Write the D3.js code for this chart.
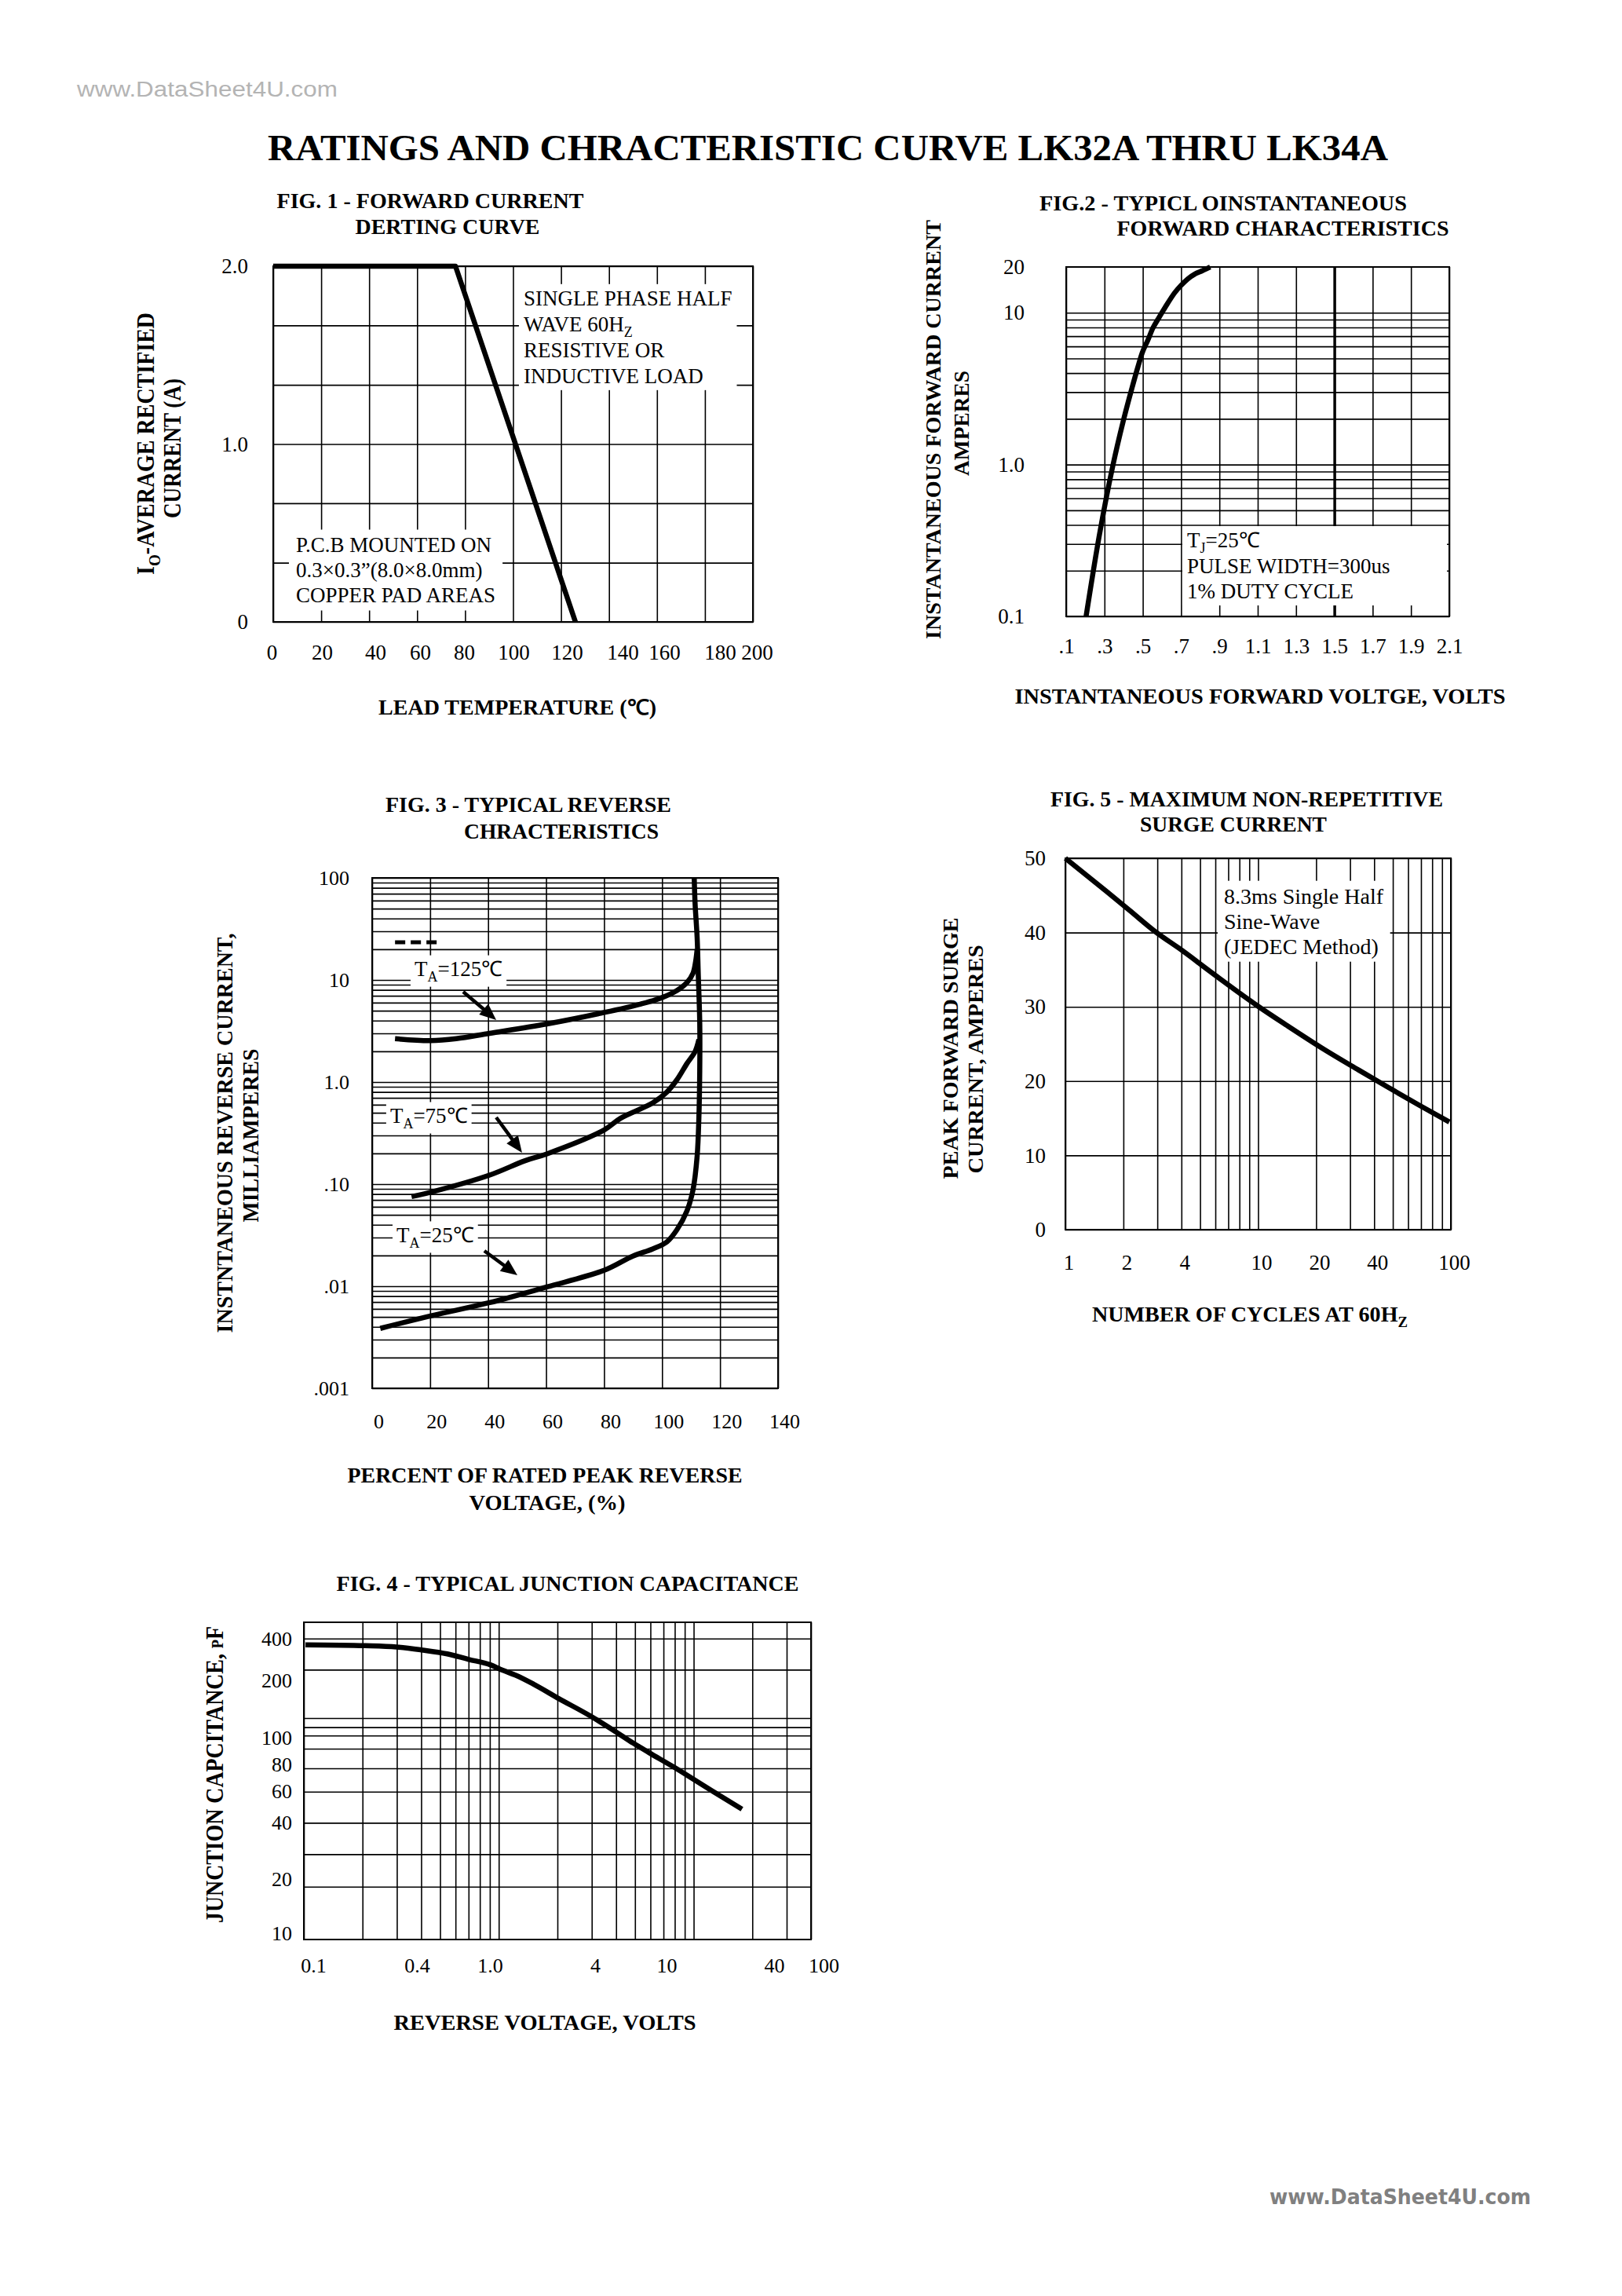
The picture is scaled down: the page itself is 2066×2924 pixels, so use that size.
<!DOCTYPE html>
<meta charset="utf-8">
<title>LK32A thru LK34A curves</title>
<style>
html, body {
  margin: 0;
  padding: 0;
  background: #fff;
}
svg { display: block; }
text {
  font-family: "Liberation Serif", "Times New Roman", serif;
  fill: #000;
}
.grid line {
  stroke: #000;
  stroke-width: 1.6;
}
.frame {
  fill: none;
  stroke: #000;
  stroke-width: 2;
}
.curve {
  fill: none;
  stroke: #000;
  stroke-width: 6.5;
  stroke-linejoin: round;
  stroke-linecap: butt;
}
</style>
<body>
<script src="https://d3js.org/d3.v7.min.js"></script>
<script>

// ---- fig. 1 forward current derating
var derateTemp = [0, 76, 126];
var derateAmps = [2.0, 2.0, 0];
var derateXTicks = [0, 20, 40, 60, 80, 100, 120, 140, 160, 180, 200];
var derateYGrid = [0, 0.333, 0.667, 1.0, 1.333, 1.667, 2.0];
var derateYTicks = [0, 1.0, 2.0];

// ---- fig. 2 forward characteristics
var fwdVolts = [0.204, 0.271, 0.345, 0.397, 0.445, 0.474, 0.497, 0.526, 0.553, 0.581, 0.616, 0.668, 0.699, 0.735, 0.773, 0.811, 0.852];
var fwdAmps  = [0.1, 0.33, 1.0, 1.91, 3.24, 4.37, 5.44, 6.57, 7.93, 9.13, 10.8, 13.6, 15.1, 16.7, 18.0, 18.9, 20];
var fwdXTicks = [0.1, 0.3, 0.5, 0.7, 0.9, 1.1, 1.3, 1.5, 1.7, 1.9, 2.1];
var fwdXLabels = [".1", ".3", ".5", ".7", ".9", "1.1", "1.3", "1.5", "1.7", "1.9", "2.1"];
var fwdYTicks = [0.1, 1, 10, 20];
var fwdYLabels = ["0.1", "1.0", "10", "20"];

// ---- fig. 3 reverse characteristics
var rev125Pct = [7.9, 20.1, 29, 40.5, 60.3, 80, 92.7, 99.9, 105.1, 108.6, 110.7, 111.6, 112.1];
var rev125mA  = [2.66, 2.55, 2.66, 3.0, 3.71, 4.8, 5.82, 6.7, 7.87, 9.44, 11.7, 15.3, 20];
var rev75Pct  = [13.6, 20.7, 40.5, 52.6, 60.3, 80, 85.8, 96.8, 101.7, 105.1, 108.6, 111.4, 112.7];
var rev75mA   = [0.0755, 0.084, 0.1225, 0.169, 0.198, 0.339, 0.444, 0.625, 0.80, 1.05, 1.52, 1.99, 2.61];
var rev25Pct  = [2.8, 20.7, 40.5, 60.3, 80, 89.9, 96.8, 101.7, 105.1, 108.6, 110.7, 112.1, 112.7, 113, 113, 112.5, 112.1, 111.4, 111.1];
var rev25mA   = [0.00386, 0.00516, 0.0069, 0.00985, 0.0143, 0.0197, 0.0232, 0.0272, 0.0356, 0.0547, 0.0887, 0.188, 0.444, 1.3, 3.79, 11.1, 26.1, 55.5, 100];
var revXTicks = [0, 20, 40, 60, 80, 100, 120, 140];
var revYTicks = [0.001, 0.01, 0.1, 1, 10, 100];
var revYLabels = [".001", ".01", ".10", "1.0", "10", "100"];
var revNames = ["T_A=125\u2103", "T_A=75\u2103", "T_A=25\u2103"];

// ---- fig. 5 surge current
var surgeCycles = [1, 1.64, 2.15, 2.97, 3.88, 5.96, 10.1, 14.1, 21.6, 33.2, 47.7, 69.1, 98.2];
var surgeAmps   = [50.0, 45.5, 43.0, 40.0, 37.9, 34.3, 30.0, 27.5, 24.4, 21.5, 19.1, 16.7, 14.5];
var surgeXTicks = [1, 2, 4, 10, 20, 40, 100];
var surgeYTicks = [0, 10, 20, 30, 40, 50];

// ---- fig. 4 junction capacitance
var capVolts = [0.102, 0.206, 0.299, 0.4, 0.544, 0.702, 0.905, 1.04, 1.23, 1.51, 2.03, 2.95, 3.97, 4.91, 5.91, 7.87, 9.85, 12.3, 17.7];
var capPf    = [370, 366, 360, 347, 330, 308, 288, 270, 252, 226, 189, 152, 125, 108, 96, 80.5, 69.5, 60, 47.4];
var capYGrid = [18, 27, 40, 59, 79, 101, 119, 132, 148, 271, 400];
var capYTicks = [10, 20, 40, 60, 80, 100, 200, 400];
var capXTicks = [0.1, 0.4, 1, 4, 10, 40, 100];
var capXLabels = ["0.1", "0.4", "1.0", "4", "10", "40", "100"];


var svg = d3.select("body").append("svg")
    .attr("width", 2066)
    .attr("height", 2924);

svg.append("rect")
    .attr("width", 2066)
    .attr("height", 2924)
    .attr("fill", "#fff");

// text with "_X" meaning a one letter subscript
function rich(t, str, size) {
  var parts = str.split("_"), sh = Math.round(size * 0.25);
  t.append("tspan").text(parts[0]);
  for (var i = 1; i < parts.length; i++) {
    t.append("tspan").attr("font-size", Math.round(size * 0.68)).attr("dy", sh).text(parts[i].charAt(0));
    t.append("tspan").attr("dy", -sh).text(parts[i].slice(1));
  }
  return t;
}

function label(g, x, y, str, o) {
  o = o || {};
  var size = o.size || 27;
  var t = g.append("text")
      .attr("x", x)
      .attr("y", y)
      .attr("font-size", size)
      .attr("font-weight", o.bold ? "bold" : null)
      .attr("text-anchor", o.anchor || "start");
  if (o.len) t.attr("textLength", o.len).attr("lengthAdjust", "spacingAndGlyphs");
  return rich(t, str, size);
}

function title(g, x, y, str, len, size) {
  return label(g, x, y, str, {bold: true, anchor: "middle", len: len, size: size || 27});
}

function vtitle(g, bx, cy, str, len, size) {
  var t = g.append("text")
      .attr("transform", "translate(" + bx + "," + cy + ") rotate(-90)")
      .attr("text-anchor", "middle")
      .attr("font-size", size)
      .attr("font-weight", "bold")
      .attr("textLength", len)
      .attr("lengthAdjust", "spacingAndGlyphs");
  return rich(t, str, size);
}

// white boxed note, lines stacked downward from the first baseline
function note(g, x, y, lines, size, step, pad, right) {
  var n = g.append("g");
  lines.forEach(function(s, i) {
    label(n, x, y + i * step, s, {size: size});
  });
  var bb = n.node().getBBox();
  var w = right ? right - (bb.x - pad) : bb.width + pad * 2;
  n.insert("rect", ":first-child")
      .attr("x", bb.x - pad)
      .attr("y", bb.y - pad / 2)
      .attr("width", w)
      .attr("height", bb.height + pad)
      .attr("fill", "#fff");
  return n;
}

function gridX(g, x, vals, f) {
  return g.append("g")
      .attr("class", "grid")
      .attr("transform", "translate(0," + f.b + ")")
      .call(d3.axisBottom(x).tickValues(vals).tickSize(-(f.b - f.t)).tickFormat(""))
      .call(function(a) { a.select(".domain").remove(); });
}

function gridY(g, y, vals, f) {
  return g.append("g")
      .attr("class", "grid")
      .attr("transform", "translate(" + f.l + ",0)")
      .call(d3.axisLeft(y).tickValues(vals).tickSize(-(f.r - f.l)).tickFormat(""))
      .call(function(a) { a.select(".domain").remove(); });
}

function frame(g, f) {
  g.append("rect")
      .attr("class", "frame")
      .attr("x", f.l)
      .attr("y", f.t)
      .attr("width", f.r - f.l)
      .attr("height", f.b - f.t);
}

function numsLeft(g, y, vals, fmt, xpos, size) {
  g.append("g")
      .attr("transform", "translate(" + xpos + ",0)")
      .call(d3.axisLeft(y).tickValues(vals).tickFormat(fmt).tickSize(0).tickPadding(0))
      .call(function(a) {
        a.select(".domain").remove();
        a.attr("font-size", size || 27).attr("font-family", null);
      });
}

function numsBottom(g, x, vals, fmt, ypos, size, dx) {
  g.append("g")
      .attr("transform", "translate(" + (dx || 0) + "," + ypos + ")")
      .call(d3.axisBottom(x).tickValues(vals).tickFormat(fmt).tickSize(0).tickPadding(0))
      .call(function(a) {
        a.select(".domain").remove();
        a.attr("font-size", size || 27).attr("font-family", null);
      });
}

function curve(g, xs, ys, x, y, interp, w) {
  var line = d3.line()
      .x(function(d) { return x(d[0]); })
      .y(function(d) { return y(d[1]); })
      .curve(interp);
  g.append("path")
      .attr("class", "curve")
      .attr("stroke-width", w || 6.5)
      .attr("d", line(d3.zip(xs, ys)));
}

function arrow(g, p0, p1) {
  var dx = p1[0] - p0[0], dy = p1[1] - p0[1],
      len = Math.sqrt(dx * dx + dy * dy),
      ux = dx / len, uy = dy / len,
      hl = 21, hw = 9,
      bx = p1[0] - ux * hl, by = p1[1] - uy * hl;
  g.append("line")
      .attr("x1", p0[0]).attr("y1", p0[1])
      .attr("x2", bx + ux * 2).attr("y2", by + uy * 2)
      .attr("stroke", "#000")
      .attr("stroke-width", 4.5);
  g.append("path")
      .attr("d", "M" + p1 + "L" + [bx - uy * hw, by + ux * hw] + "L" + [bx + uy * hw, by - ux * hw] + "Z")
      .attr("fill", "#000");
}

// ---- page heading + watermarks
svg.append("text")
    .attr("x", 98)
    .attr("y", 123)
    .attr("font-size", 27)
    .attr("textLength", 332)
    .attr("lengthAdjust", "spacingAndGlyphs")
    .style("font-family", '"Liberation Sans", Arial, sans-serif')
    .style("fill", "#b4b4b4")
    .text("www.DataSheet4U.com");

svg.append("text")
    .attr("x", 1617)
    .attr("y", 2807)
    .attr("font-size", 27)
    .attr("font-weight", "bold")
    .attr("textLength", 333)
    .attr("lengthAdjust", "spacingAndGlyphs")
    .style("font-family", '"DejaVu Sans", sans-serif')
    .style("fill", "#808080")
    .text("www.DataSheet4U.com");

label(svg, 341, 204, "RATINGS AND CHRACTERISTIC CURVE LK32A THRU LK34A", {bold: true, size: 47, len: 1427});


// ================= FIG. 1
var f1 = {l: 348, r: 959, t: 339, b: 792};
var x1 = d3.scaleLinear().domain([0, 200]).range([f1.l, f1.r]);
var y1 = d3.scaleLinear().domain([0, 2]).range([f1.b, f1.t]);
// printed temperature numbers are unevenly spaced under the grid
var x1Label = d3.scaleLinear().domain(derateXTicks)
    .range([346, 410, 478, 535, 591, 654, 722, 793, 846, 917, 964]);
var g1 = svg.append("g");

gridX(g1, x1, derateXTicks, f1);
gridY(g1, y1, derateYGrid, f1);
note(g1, x1(104.4), y1(1.78), ["SINGLE PHASE HALF", "WAVE 60H_Z", "RESISTIVE OR", "INDUCTIVE LOAD"], 27, 33, 6);
note(g1, x1(9.5), y1(0.393), ["P.C.B MOUNTED ON", "0.3\u00d70.3\u201d(8.0\u00d78.0mm)", "COPPER PAD AREAS"], 27, 32, 9);
frame(g1, f1);
curve(g1, derateTemp, derateAmps, x1, y1, d3.curveLinear, 7);

numsLeft(g1, y1, derateYTicks, function(d) { return d === 0 ? "0" : d3.format(".1f")(d); }, 316);
numsBottom(g1, x1Label, derateXTicks, d3.format("d"), 821);

title(g1, 548, 265, "FIG. 1 - FORWARD CURRENT", 391);
title(g1, 570, 298, "DERTING CURVE", 235);
title(g1, 659, 910, "LEAD TEMPERATURE (\u2103)", 354);
vtitle(g1, 196, 565, "I_O-AVERAGE RECTIFIED", 334, 32);
vtitle(g1, 230, 571, "CURRENT (A)", 178, 32);


// ================= FIG. 2
var f2 = {l: 1358, r: 1846, t: 340, b: 785};
var x2 = d3.scaleLinear().domain([0.1, 2.1]).range([f2.l, f2.r]);
var y2 = d3.scaleLog().domain([0.1, 20]).range([f2.b, f2.t]);
var g2 = svg.append("g");

gridX(g2, x2, fwdXTicks, f2)
    .selectAll(".tick line")
    .style("stroke-width", function(d) { return Math.abs(d - 1.5) < 1e-6 ? 3.5 : null; });
gridY(g2, y2, y2.ticks().filter(function(d) { return d <= 10; }), f2);
note(g2, x2(0.731), y2(0.285), ["T_J=25\u2103", "PULSE WIDTH=300us", "1% DUTY CYCLE"], 27, 32.5, 6, f2.r - 3);
frame(g2, f2);
curve(g2, fwdVolts, fwdAmps, x2, y2, d3.curveMonotoneX, 6.5);

numsLeft(g2, y2, fwdYTicks, function(d, i) { return fwdYLabels[i]; }, 1305);
numsBottom(g2, x2, fwdXTicks, function(d, i) { return fwdXLabels[i]; }, 813);

title(g2, 1558, 268, "FIG.2 - TYPICL OINSTANTANEOUS", 468);
title(g2, 1634, 300, "FORWARD CHARACTERISTICS", 423);
title(g2, 1605, 896, "INSTANTANEOUS FORWARD VOLTGE, VOLTS", 625);
vtitle(g2, 1198, 547, "INSTANTANEOUS FORWARD CURRENT", 534, 28);
vtitle(g2, 1234, 539, "AMPERES", 134, 28);


// ================= FIG. 3
var f3 = {l: 474, r: 991, t: 1118, b: 1768};
var x3 = d3.scaleLinear().domain([0, 140]).range([f3.l, f3.r]);
var y3 = d3.scaleLog().domain([0.001, 100]).range([f3.b, f3.t]);
var g3 = svg.append("g");

gridX(g3, x3, revXTicks, f3);
gridY(g3, y3, y3.ticks(), f3);

// curve labels sit on white, arrows point at their curves
var revLabelAt = [[14.6, 10.9], [6.2, 0.398], [8.4, 0.027]];
var revArrows = [[[31.4, 7.67], [42.8, 4.06]], [[42.8, 0.451], [51.7, 0.203]], [[38.7, 0.0222], [50.1, 0.0128]]];
revNames.forEach(function(s, i) {
  note(g3, x3(revLabelAt[i][0]), y3(revLabelAt[i][1]), [s], 27, 0, 5);
});
frame(g3, f3);

curve(g3, rev125Pct, rev125mA, x3, y3, d3.curveCatmullRom, 5.5);
curve(g3, rev75Pct, rev75mA, x3, y3, d3.curveCatmullRom, 5.5);
curve(g3, rev25Pct, rev25mA, x3, y3, d3.curveCatmullRom, 5.5);

revArrows.forEach(function(a) {
  arrow(g3, [x3(a[0][0]), y3(a[0][1])], [x3(a[1][0]), y3(a[1][1])]);
});

g3.append("line")
    .attr("x1", x3(7.9)).attr("x2", x3(22.5))
    .attr("y1", y3(23.4)).attr("y2", y3(23.4))
    .attr("stroke", "#000")
    .attr("stroke-width", 5)
    .attr("stroke-dasharray", "13,7");

numsLeft(g3, y3, revYTicks, function(d, i) { return revYLabels[i]; }, 445, 26);
numsBottom(g3, x3, revXTicks, d3.format("d"), 1801, 26, 8);

title(g3, 673, 1034, "FIG. 3 - TYPICAL REVERSE", 364);
title(g3, 715, 1068, "CHRACTERISTICS", 248);
title(g3, 694, 1888, "PERCENT OF RATED PEAK REVERSE", 503);
title(g3, 697, 1923, "VOLTAGE, (%)", 199);
vtitle(g3, 296, 1443, "INSTNTANEOUS REVERSE CURRENT,", 509, 30);
vtitle(g3, 329, 1446, "MILLIAMPERES", 221, 30);


// ================= FIG. 5
var f5 = {l: 1357, r: 1848, t: 1093, b: 1566};
var x5 = d3.scaleLog().domain([1, 100]).range([f5.l, f5.r]);
var y5 = d3.scaleLinear().domain([0, 50]).range([f5.b, f5.t]);
var g5 = svg.append("g");

gridX(g5, x5, x5.ticks(), f5);
gridY(g5, y5, surgeYTicks, f5);
note(g5, x5(6.65), y5(43.9), ["8.3ms Single Half", "Sine-Wave", "(JEDEC Method)"], 28, 32, 8);
frame(g5, f5);
curve(g5, surgeCycles, surgeAmps, x5, y5, d3.curveMonotoneX, 6.5);

numsLeft(g5, y5, surgeYTicks, d3.format("d"), 1332);
numsBottom(g5, x5, surgeXTicks, d3.format("d"), 1598, 27, 4);

title(g5, 1588, 1027, "FIG. 5 - MAXIMUM NON-REPETITIVE", 500);
title(g5, 1571, 1059, "SURGE CURRENT", 238);
title(g5, 1592, 1683, "NUMBER OF CYCLES AT 60H_Z", 402);
vtitle(g5, 1220, 1335, "PEAK FORWARD SURGE", 333, 28);
vtitle(g5, 1252, 1349, "CURRENT, AMPERES", 291, 28);


// ================= FIG. 4
var f4 = {l: 387, r: 1033, t: 2066, b: 2470};
var x4 = d3.scaleLog().domain([0.1, 40]).range([f4.l, f4.r]);
var y4 = d3.scaleLog().domain([9.3, 490]).range([f4.b, f4.t]);
// the printed numbers on this chart do not follow its grid spacing
var x4Label = d3.scaleLog().domain(capXTicks).range([399, 531, 624, 758, 849, 986, 1049]);
var y4Label = d3.scaleLog().domain(capYTicks).range([2462, 2393, 2321, 2281, 2247, 2213, 2140, 2087]);
var g4 = svg.append("g");

gridX(g4, x4, x4.ticks(), f4);
gridY(g4, y4, capYGrid, f4);
frame(g4, f4);
curve(g4, capVolts, capPf, x4, y4, d3.curveMonotoneX, 6);

numsLeft(g4, y4Label, capYTicks, d3.format("d"), 372, 26);
numsBottom(g4, x4Label, capXTicks, function(d, i) { return capXLabels[i]; }, 2494, 26);

title(g4, 723, 2026, "FIG. 4 - TYPICAL JUNCTION CAPACITANCE", 589);
title(g4, 694, 2585, "REVERSE VOLTAGE, VOLTS", 385);
var capTitle = g4.append("text")
    .attr("transform", "translate(284,2260) rotate(-90)")
    .attr("text-anchor", "middle")
    .attr("font-size", 32)
    .attr("font-weight", "bold")
    .attr("textLength", 378)
    .attr("lengthAdjust", "spacingAndGlyphs");
capTitle.append("tspan").text("JUNCTION CAPCITANCE, ");
capTitle.append("tspan").attr("font-size", 21).text("P");
capTitle.append("tspan").text("F");

</script>
</body>
